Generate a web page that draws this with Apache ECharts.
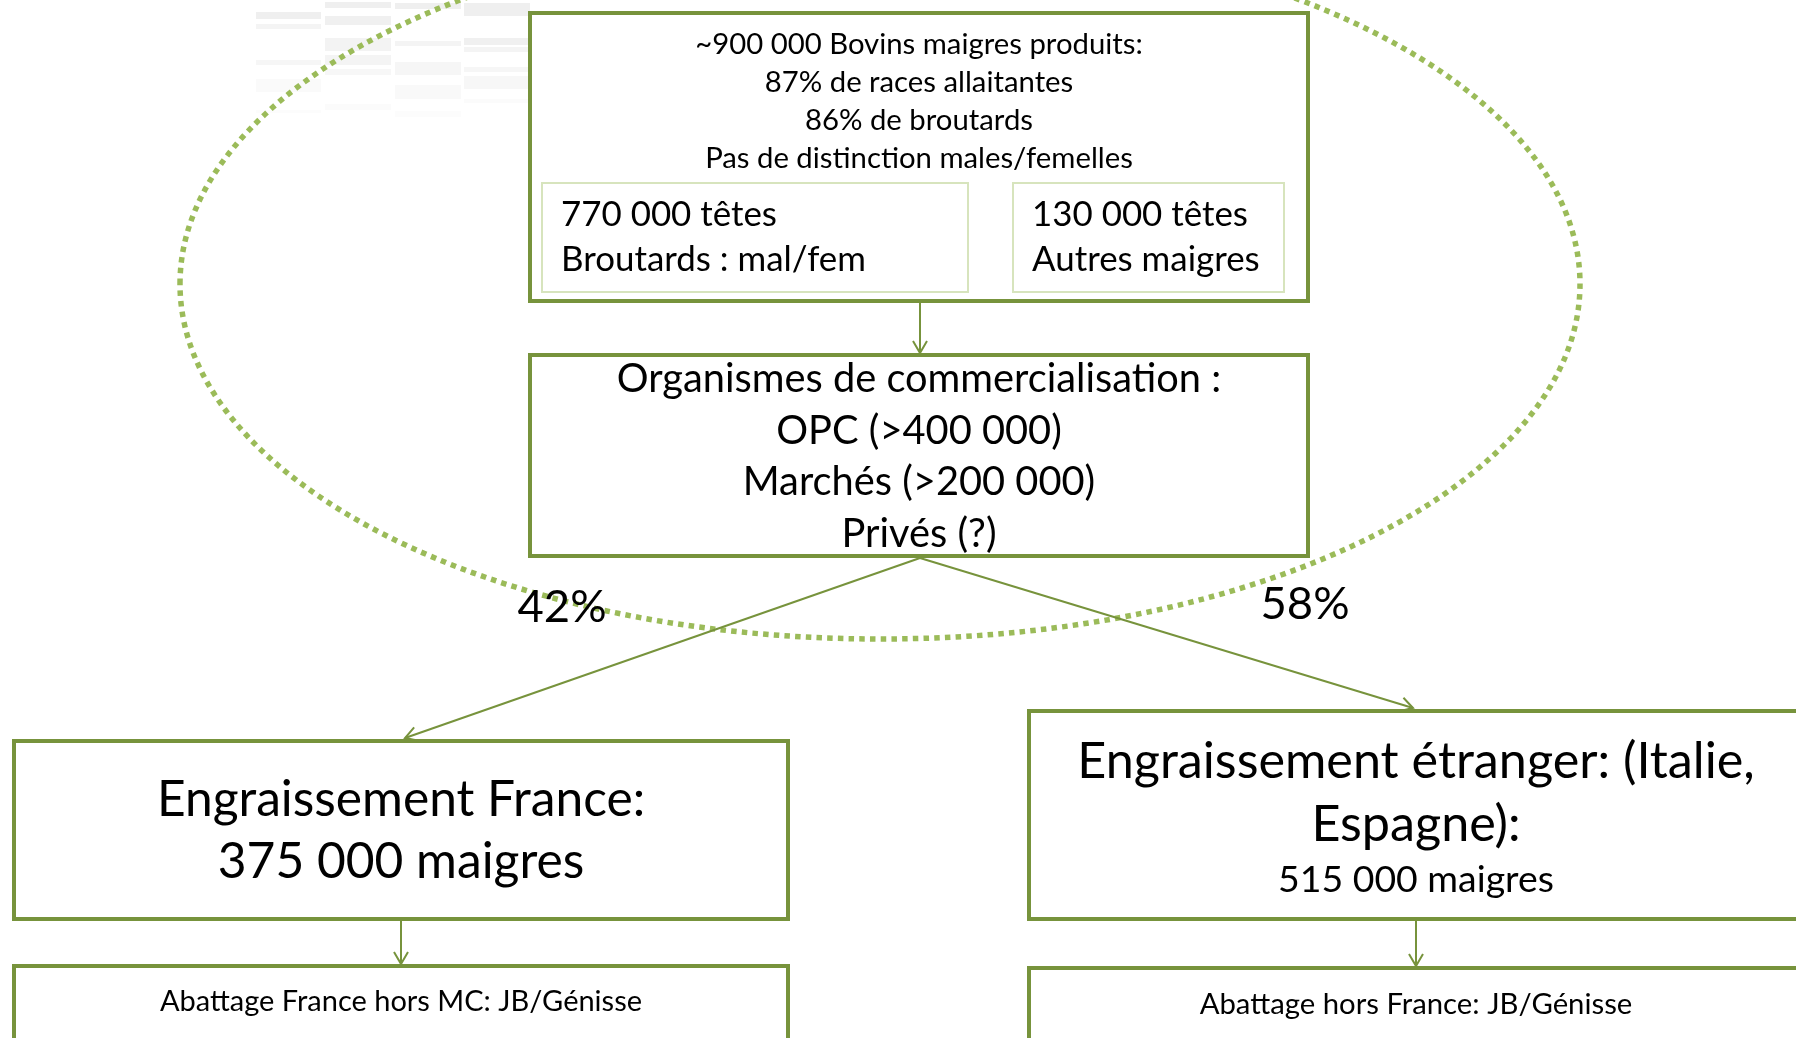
<!DOCTYPE html>
<html><head><meta charset="utf-8">
<script src="https://cdn.jsdelivr.net/npm/echarts/dist/echarts.min.js"></script>
<style>html,body{margin:0;padding:0;background:#fff}#c{width:1796px;height:1038px}</style>
</head><body><div id="c"></div>
<script>
// ---- content ----
const topLines = ['~900 000 Bovins maigres produits:', '87% de races allaitantes', '86% de broutards', 'Pas de distinction males/femelles'];
const subLeft = ['770 000 têtes', 'Broutards : mal/fem'];
const subRight = ['130 000 têtes', 'Autres maigres'];
const orgLines = ['Organismes de commercialisation :', 'OPC (>400 000)', 'Marchés (>200 000)', 'Privés (?)'];
const shareLabels = ['42%', '58%'];
const franceLines = ['Engraissement France:', '375 000 maigres'];
const abroadLines = ['Engraissement étranger: (Italie,', 'Espagne):'];
const abroadCount = ['515 000 maigres'];
const slaughterLines = ['Abattage France hors MC: JB/Génisse', 'Abattage hors France: JB/Génisse'];

// ---- styling / layout ----
const FAM = 'Lato, "Liberation Sans", sans-serif';
const DARK = '#77933C', LIGHT = '#D7E4BD', DOT = '#9BBB59';
const cv = document.createElement('canvas').getContext('2d');
function fit(text, w) { cv.font = '100px ' + FAM; return 100 * w / cv.measureText(text).width; }

const els = [];
// faint ghost table (top-left)
const ghostCols = [[256, 65], [325, 66], [395, 66], [464, 66]];
const ghostRows = [
  [[12, 7, '#efefef'], [24, 5, '#f4f4f4'], [60, 5, '#f6f6f6'], [79, 13, '#fafafa'], [110, 3, '#fcfcfc']],
  [[2, 6, '#efefef'], [16, 9, '#f0f0f0'], [38, 13, '#f3f3f3'], [55, 10, '#f4f4f4'], [69, 6, '#f7f7f7'], [104, 6, '#fbfbfb']],
  [[3, 6, '#efefef'], [41, 5, '#f4f4f4'], [62, 13, '#f6f6f6'], [85, 14, '#f9f9f9'], [111, 6, '#fcfcfc']],
  [[3, 13, '#efefef'], [38, 7, '#f0f0f0'], [47, 5, '#f4f4f4'], [67, 5, '#f6f6f6'], [76, 13, '#f7f7f7'], [99, 4, '#fbfbfb']]
];
ghostCols.forEach((c, i) => ghostRows[i].forEach(r => els.push({type: 'rect', z: 1, shape: {x: c[0], y: r[0], width: c[1], height: r[1]}, style: {fill: r[2]}})));

function box(x, y, w, h, stroke, lw, z) {
  els.push({type: 'rect', z: z || 5, shape: {x, y, width: w, height: h}, style: {fill: '#fff', stroke, lineWidth: lw}});
}
function txt(t, x, y, size, align, z) {
  els.push({type: 'text', z: z || 20, style: {text: t, x, y, fill: '#000', font: size.toFixed(1) + 'px ' + FAM,
    textAlign: align || 'center', textVerticalAlign: 'middle', align: align || 'center', verticalAlign: 'middle'}});
}
function arrow(x1, y1, x2, y2) {
  els.push({type: 'line', z: 12, shape: {x1, y1, x2, y2}, style: {stroke: DARK, lineWidth: 2}});
  const a = Math.atan2(y2 - y1, x2 - x1), L = 14, s = Math.PI / 6;
  els.push({type: 'polyline', z: 12, shape: {points: [
    [x2 - L * Math.cos(a - s), y2 - L * Math.sin(a - s)], [x2, y2], [x2 - L * Math.cos(a + s), y2 - L * Math.sin(a + s)]]},
    style: {stroke: DARK, lineWidth: 2, fill: null}});
}

// ellipse (dotted)
els.push({type: 'ellipse', z: 10, shape: {cx: 880, cy: 284, rx: 700, ry: 355}, style: {fill: null, stroke: DOT, lineWidth: 5.5, lineDash: [5.5, 5.2]}});

// top box
box(530, 13, 778, 288, DARK, 4);
box(542, 183, 426, 109, LIGHT, 2, 6);
box(1013, 183, 271, 109, LIGHT, 2, 6);
const sTop = fit(topLines[0], 448);
[45, 83, 121, 159].forEach((y, i) => txt(topLines[i], 919, y, sTop));
const sSub = fit(subLeft[1], 305);
txt(subLeft[0], 561, 215, sSub, 'left'); txt(subLeft[1], 561, 260, sSub, 'left');
txt(subRight[0], 1032, 215, sSub, 'left'); txt(subRight[1], 1032, 260, sSub, 'left');

// organisms box
arrow(920, 303, 920, 353);
box(530, 355, 778, 201, DARK, 4);
const sOrg = fit(orgLines[0], 604);
[379, 431, 482, 534].forEach((y, i) => txt(orgLines[i], 919, y, sOrg));

// branches
arrow(920, 558, 405, 738);
arrow(920, 558, 1413, 708);
const sPct = fit(shareLabels[1], 89);
txt(shareLabels[0], 562, 607, sPct);
txt(shareLabels[1], 1305, 604, sPct);

// France fattening
box(14, 741, 774, 178, DARK, 4);
const sFr = fit(franceLines[0], 488);
txt(franceLines[0], 401, 800, sFr); txt(franceLines[1], 401, 862, sFr);
arrow(401, 921, 401, 964);
box(14, 966, 774, 120, DARK, 4);
const sSl = fit(slaughterLines[0], 482);
txt(slaughterLines[0], 401, 1002, sSl);

// abroad fattening
box(1029, 711, 820, 208, DARK, 4);
const sAb = fit(abroadLines[0], 677);
txt(abroadLines[0], 1416, 762, sAb); txt(abroadLines[1], 1416, 825, sAb);
txt(abroadCount[0], 1416, 880, fit(abroadCount[0], 276));
arrow(1416, 921, 1416, 966);
box(1029, 968, 820, 120, DARK, 4);
txt(slaughterLines[1], 1416, 1005, fit(slaughterLines[1], 432));

const chart = echarts.init(document.getElementById('c'), null, {renderer: 'canvas'});
chart.setOption({backgroundColor: '#fff', animation: false, graphic: {elements: els}});
</script>
</body></html>
